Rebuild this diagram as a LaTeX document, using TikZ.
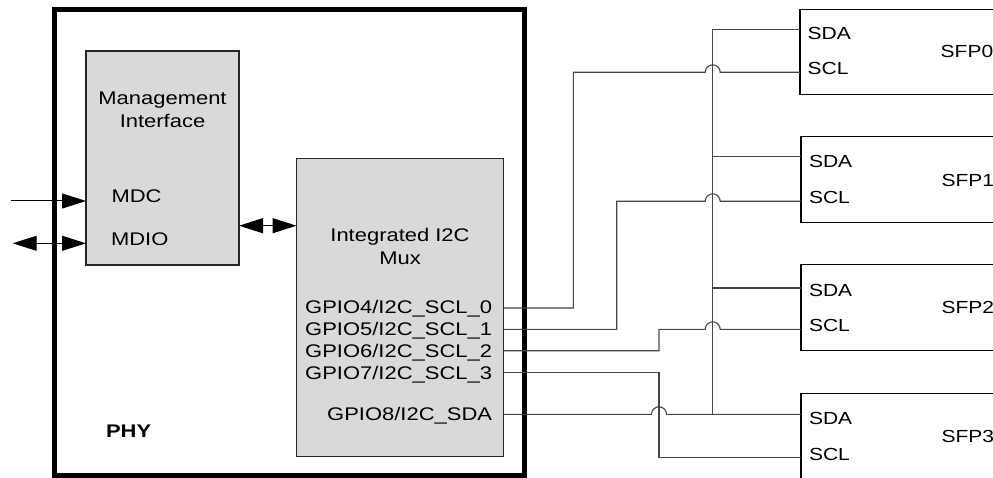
\documentclass[tikz,border=0pt]{standalone}
\usepackage{fontspec}
\setmainfont{Liberation Sans}[FakeStretch=1.2]
\usetikzlibrary{arrows.meta}
\definecolor{boxgray}{RGB}{217,217,217}
\definecolor{wiregray}{RGB}{70,70,70}
\begin{document}
\begin{tikzpicture}[x=1pt,y=-1pt,
  every node/.style={font=\fontsize{18.3}{22}\selectfont, inner sep=0pt, outer sep=0pt},
  gbox/.style={draw=black!85, line width=1.2pt, fill=boxgray, anchor=north west},
  phybox/.style={draw=black, line width=5pt, anchor=north west},
  sfpbox/.style={draw=black, line width=1.3pt, anchor=north west, minimum width=260pt, minimum height=86pt},
  lbl/.style={anchor=base west},
  gpio/.style={anchor=base east},
  sfptxt/.style={anchor=base west, font=\fontsize{17.5}{21}\selectfont},
  wire/.style={draw=wiregray, line width=1.1pt},
  arr/.style={line width=1pt, -{Triangle[length=24pt,width=15pt]}},
  darr/.style={line width=1pt, {Triangle[length=24pt,width=15pt]}-{Triangle[length=24pt,width=15pt]}}
]
\useasboundingbox (0,0) rectangle (993,478);
\clip (0,0) rectangle (993,478);

% PHY container
\node[phybox, minimum width=470.5pt, minimum height=465.5pt] (phy) at (54,10) {};
\node[anchor=base west, font=\fontsize{18.3}{22}\selectfont\bfseries] (phyl) at (106,437.3) {PHY};

% Management interface
\node[gbox, minimum width=153pt, minimum height=214pt] (mgmt) at (86,51) {};
\node[anchor=base] (mgmtt1) at (162.5,105) {Management};
\node[anchor=base] (mgmtt2) at (162.5,128) {Interface};
\node[lbl] (mdc) at (111.5,203) {MDC};
\node[lbl] (mdio) at (111,246) {MDIO};

% Mux
\node[gbox, minimum width=207pt, minimum height=298pt] (mux) at (296.5,158.5) {};
\node[anchor=base] (muxt1) at (400,241.7) {Integrated I2C};
\node[anchor=base] (muxt2) at (400,265) {Mux};
\node[gpio] (l4) at (492,313.3) {GPIO4/I2C\_SCL\_0};
\node[gpio] (l5) at (492,335.8) {GPIO5/I2C\_SCL\_1};
\node[gpio] (l6) at (492,357.8) {GPIO6/I2C\_SCL\_2};
\node[gpio] (l7) at (492,379.6) {GPIO7/I2C\_SCL\_3};
\node[gpio] (l8) at (492,420.7) {GPIO8/I2C\_SDA};

% external arrows
\coordinate (mdcin) at (11,201);
\coordinate (mdioin) at (12.7,243.3);
\coordinate (linky) at (268,225.7);
\draw[arr] (mdcin) -- (mdcin -| mgmt.west);
\draw[darr] (mdioin) -- (mdioin -| mgmt.west);
\draw[darr] (linky -| mgmt.east) -- (linky -| mux.west);

% SFP modules
\node[sfpbox, minimum height=85pt] (sfp0) at (800,9.3) {};
\node[sfpbox] (sfp1) at (801,136.3) {};
\node[sfpbox] (sfp2) at (801,264.5) {};
\node[sfpbox, minimum height=100pt] (sfp3) at (801,393.3) {};

\node[sfptxt] (sda0t) at (807.7,40) {SDA};
\node[sfptxt] (scl0t) at (807.7,75) {SCL};
\node[sfptxt] (sfp0t) at (940.7,57.3) {SFP0};
\node[sfptxt] (sda1t) at (809,167.7) {SDA};
\node[sfptxt] (scl1t) at (809,203.3) {SCL};
\node[sfptxt] (sfp1t) at (941.5,186.7) {SFP1};
\node[sfptxt] (sda2t) at (809,296.7) {SDA};
\node[sfptxt] (scl2t) at (809,331.7) {SCL};
\node[sfptxt] (sfp2t) at (941.5,313.3) {SFP2};
\node[sfptxt] (sda3t) at (809,424.3) {SDA};
\node[sfptxt] (scl3t) at (809,460) {SCL};
\node[sfptxt] (sfp3t) at (941.5,442.3) {SFP3};

% pin coordinates
\coordinate (g4) at (503.5,308);
\coordinate (g5) at (503.5,329.3);
\coordinate (g6) at (503.5,350.7);
\coordinate (g7) at (503.5,372.3);
\coordinate (g8) at (503.5,414.3);
\coordinate (sda0) at (800,29.3);
\coordinate (scl0) at (800,72.3);
\coordinate (sda1) at (801,156.7);
\coordinate (scl1) at (801,201.3);
\coordinate (sda2) at (801,288);
\coordinate (scl2) at (801,329.3);
\coordinate (sda3) at (801,414.3);
\coordinate (scl3) at (801,457.3);
\coordinate (bust) at (712.7,29.3);
\coordinate (busb) at (712.7,414.3);
\coordinate (bus1) at (712.7,156.7);
\coordinate (bus2) at (712.7,288);

% SDA bus
\draw[wire] (g8) -- (651.5,414.3) arc[start angle=180,end angle=0,radius=7.5pt] -- (busb) -- (sda3);
\draw[wire] (busb) -- (bust) -- (sda0);
\draw[wire] (bus1) -- (sda1);
\draw[wire] (bus2) -- (sda2);

% SCL lines
\draw[wire] (g4) -- (573.3,308) -- (573.3,72.3) -- (705.2,72.3) arc[start angle=180,end angle=0,radius=7.5pt] -- (scl0);
\draw[wire] (g5) -- (616.7,329.3) -- (616.7,201.3) -- (705.2,201.3) arc[start angle=180,end angle=0,radius=7.5pt] -- (scl1);
\draw[wire] (g6) -- (659,350.7) -- (659,329.3) -- (705.2,329.3) arc[start angle=180,end angle=0,radius=7.5pt] -- (scl2);
\draw[wire] (g7) -- (659,372.3) -- (659,457.3) -- (scl3);
\end{tikzpicture}
\end{document}
